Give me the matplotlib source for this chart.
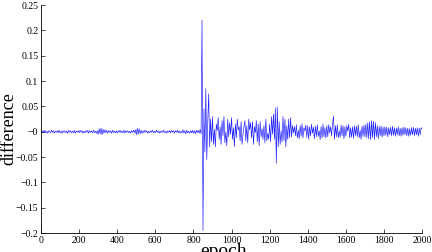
import numpy as np
import matplotlib
matplotlib.use("Agg")
import matplotlib.pyplot as plt
from matplotlib.ticker import FuncFormatter

# difference per epoch, in thousandths, sampled every 5 epochs (0..2000)
calm = [1, -2, 2, -1, 3, -2, 1, -3, 2, 0, -2, 3, -1, 2, -3, 1, -1, 2, -2, 3,
        -2, 1, -3, 2, -1, 2, -2, 1, -3, 3, -1, 2, -2, 1, -2, 3, -3, 1, -1, 2,
        -2, 3, -1, 2, -3, 1, -2, 2, -1, 3, -3, 2, -1, 1, -2, 3, -2, 1, -3, 2,
        -5, 6, -4, 7, -6, 5, -3, 4, -2, 3, -3, 2, -1, 2, -3, 3, -2, 1, -2, 2,
        -3, 2, -1, 3, -2, 1, -2, 3, -3, 2, -1, 2, -2, 1, -3, 2, -1, 3, -2, 4,
        -6, 7, -5, 6, -4, 3, -3, 2, -2, 3, -1, 2, -3, 1, -2, 2, -1, 3, -2, 1,
        -2, 3, -1, 2, -3, 1, -2, 2, -1, 3, -2, 1, -3, 2, -1, 2, -2, 3, -1, 2,
        -3, 2, -1, 3, -2, 2, -3, 1, -2, 4, -3, 2, -4, 3, -2, 1, -3, 2, -2, 3,
        -3, 2, -4, 3, -2, 3, -3, 4]
spike = [-4, 220, -195, 45, -40, 85, -55, 20, 75, -30, 25, -20]
after = [30, -25, 5, -30, 15, 2, 28, -15, 10, -25,
         22, -8, 30, -22, 0, -28, 25, -10, 18, -5,
         28, -15, 8, -30, 15, -12, 25, 3, 10, -18,
         20, -25, -5, 10, 22, -18, 12, -22, 25, 4,
         18, -12, 20, -25, 10, -2, 22, -20, 15, -28,
         20, -10, 6, -15, 12, -22, 25, -18, -3, -15]
second = [15, -20, 30, -5, 35, -15, 47, -62, 49, -30,
          20, -25, 2, -20, 30, -18, 25, -30, 12, -15]
mid = [25, -12, 28, -10, 12, -2, 10, -8, 14, -12,
       3, -14, 12, -9, 16, -12, 8, 1, 13, -11,
       12, -15, 10, -8, 15, -3, 9, -14, 11, -10,
       14, -9, 2, -16, 10, -12, 15, -10, 8, -13]
late = [12, -10, 14, -2, 10, -8, 15, 31, -15, 12,
        -10, 14, -12, 2, -11, 13, -8, 12, -14, 10,
        -9, 12, 1, 15, -12, 8, -11, 10, -13, 12,
        -8, 11, -10, 14, -12, 3, -15, 11, -9, 13]
bump = [-10, 15, -12, 18, -14, 20, -16, 22, -12, 21,
        -15, 18, -10, 12, -14, 10, -8, 12, -11, 9]
tail = [-8, 10, -7, 9, -10, 8, -6, 9, -8, 11,
        -7, 8, -9, 7, -6, 10, -8, 7, -9, 8,
        -7, 9, -6, 8, -8, 7, -9, 6, -7, 8,
        -6, 9, -8, 7, -6, 8, -9, 7, -6, 8,
        5]

diff = np.array(calm + spike + after + second + mid + late + bump + tail) / 1000.0
epoch = np.arange(0, 2001, 5)

plt.rcParams['font.family'] = ['Liberation Serif', 'DejaVu Serif']

fig = plt.figure(figsize=(4.32, 2.52), dpi=100)
ax = fig.add_axes([0.095, 0.075, 0.882, 0.905])
ax.plot(epoch, diff, color=(0.1, 0.1, 1.0), lw=0.45)

ax.set_xlim(0, 2000)
ax.set_ylim(-0.2, 0.25)
ax.set_xticks(np.arange(0, 2001, 200))
ax.set_yticks(np.arange(-0.2, 0.251, 0.05))
ax.yaxis.set_major_formatter(FuncFormatter(lambda v, p: ('%g' % round(v, 3)).replace('-', '\u2212')))
ax.tick_params(direction='in', length=3, width=0.5, labelsize=7, pad=2)
for s in ['top', 'right']:
    ax.spines[s].set_visible(False)
for s in ['left', 'bottom']:
    ax.spines[s].set_linewidth(0.6)

ax.set_xlabel('epoch', fontsize=14)
ax.xaxis.set_label_coords(0.48, -0.045)
ax.set_ylabel('difference', fontsize=13)
ax.yaxis.set_label_coords(-0.062, 0.46)

fig.savefig('out.png', dpi=100)
